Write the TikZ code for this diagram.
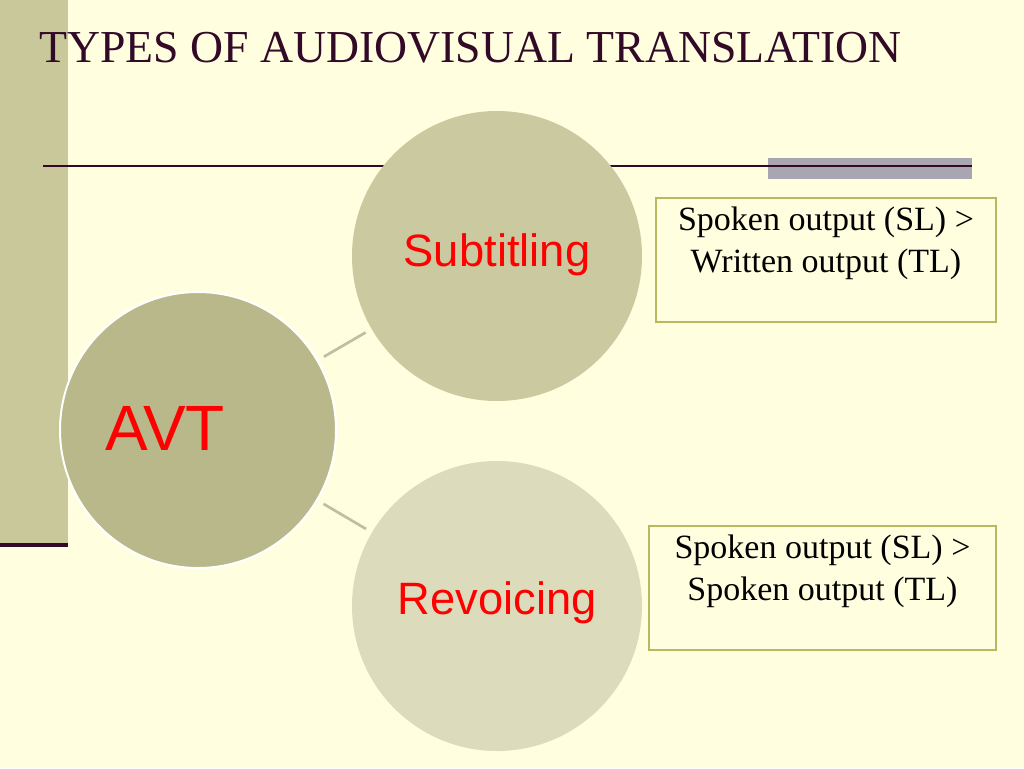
\documentclass[tikz,border=0pt]{standalone}
\usepackage{fontspec}
\setmainfont{Liberation Serif}
\newfontfamily\lsans{Liberation Sans}
\definecolor{bg}{RGB}{255,255,224}
\definecolor{barc}{RGB}{200,200,154}
\definecolor{dpur}{RGB}{50,10,40}
\definecolor{grayb}{RGB}{168,166,176}
\definecolor{csub}{RGB}{203,201,160}
\definecolor{cavt}{RGB}{184,184,138}
\definecolor{crev}{RGB}{220,220,188}
\definecolor{boxb}{RGB}{184,184,96}
\definecolor{conn}{RGB}{190,190,160}
\begin{document}
\begin{tikzpicture}[x=0.75pt,y=-0.75pt,
  circ/.style={circle,inner sep=0pt},
  lbl/.style={text=red,font=\lsans\fontsize{34}{38}\selectfont},
  infobox/.style={draw=boxb,line width=2.2pt,fill=bg,inner sep=0pt},
  infotext/.style={anchor=north,inner sep=0pt,align=center,font=\fontsize{25.5}{31}\selectfont},
  conn/.style={draw=conn,line width=2pt,shorten <=5pt,shorten >=5pt}]
\useasboundingbox (0,0) rectangle (1024,768);
\fill[bg] (0,0) rectangle (1024,768);
\fill[barc] (0,0) rectangle (68,545);
\draw[dpur,line width=3.5pt] (0,545) -- (68,545);
\node[anchor=base west,text=dpur,inner sep=0pt,font=\fontsize{34.3}{38}\selectfont] (title) at (39,62) {TYPES OF AUDIOVISUAL TRANSLATION};
\fill[grayb] (768,158) rectangle (972,179);
\draw[dpur,line width=1.6pt] (43,166) -- (972,166);
\node[circ,fill=csub,minimum size=290*0.75pt] (sub) at (497,256) {};
\node[circ,fill=crev,minimum size=290*0.75pt] (rev) at (497,606) {};
\node[circ,fill=cavt,draw=white,line width=1.5pt,minimum size=276*0.75pt] (avt) at (198,430) {};
\node[lbl] (subl) at (497,255) {Subtitling};
\node[lbl] (revl) at (497,603) {Revoicing};
\node[text=red,font=\lsans\fontsize{48}{52}\selectfont] (avtl) at (165,428) {AVT};
\draw[conn] (avt) -- (sub);
\draw[conn] (avt) -- (rev);
\node[infobox,minimum width=340*0.75pt,minimum height=124*0.75pt] (b1) at (826,260) {};
\node[infotext] (t1) at (826,207) {Spoken output (SL) >\\Written output (TL)};
\node[infobox,minimum width=347*0.75pt,minimum height=124*0.75pt] (b2) at (822.5,588) {};
\node[infotext] (t2) at (822.5,535) {Spoken output (SL) >\\Spoken output (TL)};
\end{tikzpicture}
\end{document}
